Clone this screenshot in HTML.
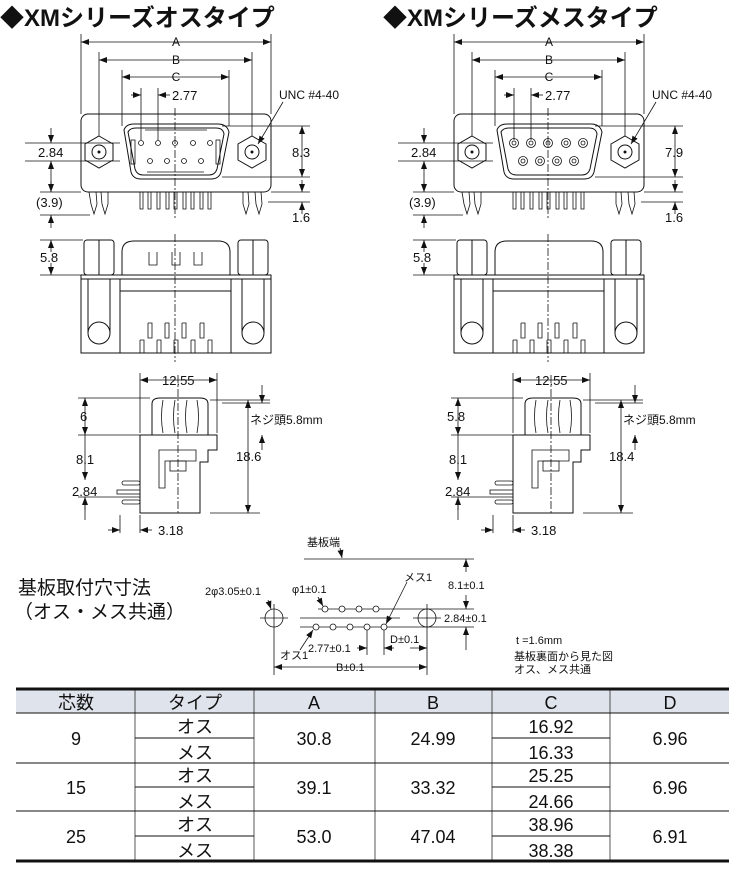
<!DOCTYPE html>
<html><head><meta charset="utf-8"><style>
html,body{margin:0;padding:0;background:#fff}
svg{display:block}
text{font-family:"Liberation Sans","Noto Sans CJK JP",sans-serif;fill:#111}
</style></head><body>
<svg width="745" height="870" viewBox="0 0 745 870" xmlns="http://www.w3.org/2000/svg">
<defs>
<marker id="ar" markerWidth="8" markerHeight="6" refX="8" refY="3" orient="auto-start-reverse" markerUnits="userSpaceOnUse"><path d="M0,0 L8,3 L0,6z" fill="#111"/></marker>
<g id="draw" stroke="#111" fill="none" stroke-width="1">
 <g stroke-width="0.8">
 <line x1="81" y1="34" x2="81" y2="114"/><line x1="271" y1="34" x2="271" y2="114"/>
 <line x1="81" y1="42" x2="271" y2="42" marker-start="url(#ar)" marker-end="url(#ar)"/>
 <line x1="99" y1="52" x2="99" y2="136"/><line x1="252" y1="52" x2="252" y2="136"/>
 <line x1="99" y1="60" x2="252" y2="60" marker-start="url(#ar)" marker-end="url(#ar)"/>
 <line x1="122" y1="70" x2="122" y2="126"/><line x1="229" y1="70" x2="229" y2="126"/>
 <line x1="122" y1="77" x2="229" y2="77" marker-start="url(#ar)" marker-end="url(#ar)"/>
 <line x1="141" y1="88" x2="141" y2="140"/><line x1="158" y1="88" x2="158" y2="140"/>
 <line x1="131" y1="95" x2="141" y2="95" marker-end="url(#ar)"/><line x1="170" y1="95" x2="158" y2="95" marker-end="url(#ar)"/>
 <line x1="25" y1="143" x2="120" y2="143"/><line x1="25" y1="161" x2="120" y2="161"/>
 <line x1="51" y1="128" x2="51" y2="143" marker-end="url(#ar)"/><line x1="51" y1="176" x2="51" y2="161" marker-end="url(#ar)"/>
 <line x1="51" y1="176" x2="51" y2="192"/>
 <line x1="40" y1="192" x2="81" y2="192"/><line x1="40" y1="215" x2="90" y2="215"/>
 <line x1="51" y1="181" x2="51" y2="192" marker-end="url(#ar)"/><line x1="51" y1="228" x2="51" y2="215" marker-end="url(#ar)"/>
 <line x1="222" y1="126" x2="310" y2="126"/><line x1="222" y1="177" x2="310" y2="177"/>
 <line x1="302" y1="126" x2="302" y2="177" marker-start="url(#ar)" marker-end="url(#ar)"/>
 <line x1="271" y1="192" x2="310" y2="192"/><line x1="268" y1="202" x2="310" y2="202"/>
 <line x1="302" y1="180" x2="302" y2="192" marker-end="url(#ar)"/><line x1="302" y1="214" x2="302" y2="202" marker-end="url(#ar)"/>
 <line x1="283" y1="102" x2="258" y2="144" marker-end="url(#ar)"/>
 </g>
 <rect x="81" y="114" width="190" height="78" rx="7"/>
 <path d="M124,130 Q126,124 134,124 L218,124 Q227,124 229,132 L221,172 Q219,179 211,179 L141,179 Q133,179 131,172 Z"/>
 <path d="M128,132 Q130,128 136,128 L216,128 Q223,128 224,134 L217,169 Q215,175 209,175 L143,175 Q137,175 135,169 Z"/>
 <polygon points="99,136 113,144 113,160 99,168 85,160 85,144"/><circle cx="99" cy="152" r="7"/><circle cx="99" cy="152" r="1" fill="#111"/>
 <polygon points="252,136 266,144 266,160 252,168 238,160 238,144"/><circle cx="252" cy="152" r="7"/><circle cx="252" cy="152" r="1" fill="#111"/>
 <line x1="175" y1="108" x2="175" y2="218" stroke-dasharray="8,2,2,2" stroke-width="0.8"/>
 <g stroke-width="0.8">
 <path d="M140,192v17h3v-17M148,192v17h3v-17M157,192v17h3v-17M166,192v17h3v-17M174,192v17h3v-17M183,192v17h3v-17M191,192v17h3v-17M200,192v17h3v-17M208,192v17h3v-17"/>
 <path d="M89,192 l2,12 l3,10 l3,-10 l-1,-12 M101,192 l1,12 l3,10 l3,-10 l0,-12"/>
 <path d="M243,192 l0,12 l3,10 l3,-10 l-1,-12 M255,192 l1,12 l3,10 l3,-10 l-1,-12"/>
 </g>
 <g stroke-width="0.8">
 <line x1="40" y1="240" x2="83" y2="240"/><line x1="40" y1="275" x2="83" y2="275"/>
 <line x1="51" y1="252" x2="51" y2="240" marker-end="url(#ar)"/><line x1="51" y1="263" x2="51" y2="275" marker-end="url(#ar)"/>
 </g>
 <rect x="84" y="240" width="30" height="35" rx="3"/><line x1="99" y1="240" x2="99" y2="275"/>
 <rect x="238" y="240" width="30" height="35" rx="3"/><line x1="253" y1="240" x2="253" y2="275"/>
 <path d="M122,275 V252 Q122,241 134,241 L218,241 Q230,241 230,252 V275"/>
 <rect x="81" y="275" width="190" height="78"/><line x1="81" y1="279" x2="271" y2="279"/>
 <line x1="120" y1="279" x2="120" y2="353"/><line x1="231" y1="279" x2="231" y2="353"/><line x1="120" y1="291" x2="231" y2="291"/>
 <path d="M88,279 V333 M110,279 V333 M88,333 A11,11 0 0 1 110,333 M88,333 A11,11 0 0 0 110,333"/>
 <path d="M242,279 V333 M264,279 V333 M242,333 A11,11 0 0 1 264,333 M242,333 A11,11 0 0 0 264,333"/>
 <g stroke-width="0.8">
 <path d="M140,340v13h4v-13h-4 M157,340v13h4v-13h-4 M174,340v13h4v-13h-4 M191,340v13h4v-13h-4 M208,340v13h4v-13h-4"/>
 <path d="M148,323v15h4v-15h-4 M165,323v15h4v-15h-4 M182,323v15h4v-15h-4 M200,323v15h4v-15h-4"/>
 <line x1="175" y1="234" x2="175" y2="362" stroke-dasharray="8,2,2,2"/>
 </g>
 <g stroke-width="0.8">
 <line x1="140" y1="373" x2="140" y2="433"/><line x1="217" y1="373" x2="217" y2="433"/>
 <line x1="140" y1="380" x2="217" y2="380" marker-start="url(#ar)" marker-end="url(#ar)"/>
 <line x1="78" y1="398" x2="150" y2="398"/><line x1="78" y1="435" x2="140" y2="435"/>
 <line x1="85" y1="398" x2="85" y2="435" marker-start="url(#ar)" marker-end="url(#ar)"/>
 <line x1="85" y1="435" x2="85" y2="480" marker-end="url(#ar)"/><line x1="85" y1="497" x2="85" y2="510"/>
 <line x1="85" y1="520" x2="85" y2="497" marker-end="url(#ar)"/>
 <line x1="78" y1="497" x2="140" y2="497"/>
 <line x1="210" y1="400" x2="270" y2="400"/><line x1="210" y1="513" x2="260" y2="513"/>
 <line x1="248" y1="400" x2="248" y2="513" marker-start="url(#ar)" marker-end="url(#ar)"/>
 <line x1="222" y1="403" x2="270" y2="403"/><line x1="262" y1="385" x2="262" y2="403" marker-end="url(#ar)"/>
 <line x1="262" y1="450" x2="262" y2="435" marker-end="url(#ar)"/>
 <line x1="120" y1="515" x2="120" y2="533"/><line x1="140" y1="515" x2="140" y2="533"/>
 <line x1="108" y1="530" x2="120" y2="530" marker-end="url(#ar)"/><line x1="152" y1="530" x2="140" y2="530" marker-end="url(#ar)"/>
 </g>
 <path d="M152,435 V404 Q152,398 160,398 L200,398 Q208,398 208,404 V435"/>
 <path d="M163,400 Q160,417 163,433 M175,400 Q172,417 175,433 M187,400 Q184,417 187,433 M197,400 Q200,417 197,433" stroke-width="0.8"/>
 <path d="M140,435 H217 V450 H208 V462 H200 V513 H140 Z"/>
 <path d="M159,450 H196 V461 H165 V488 H159 Z" stroke-width="0.8"/>
 <rect x="170" y="461" width="16" height="10" stroke-width="0.8"/>
 <g stroke-width="0.8">
 <rect x="122" y="481" width="18" height="4" rx="2"/><rect x="117" y="490" width="23" height="4"/><rect x="122" y="500" width="18" height="4" rx="2"/>
 <line x1="178" y1="375" x2="178" y2="515" stroke-dasharray="8,2,2,2"/>
 </g>
</g>
</defs>

<text x="0" y="26" font-size="24" font-weight="bold">◆XMシリーズオスタイプ</text>
<text x="383" y="26" font-size="24" font-weight="bold">◆XMシリーズメスタイプ</text>

<use href="#draw"/>
<use href="#draw" transform="translate(373,0)"/>

<!-- male pins -->
<g stroke="#111" fill="none" stroke-width="0.8">
 <circle cx="141" cy="143" r="2.5"/><circle cx="158" cy="143" r="2.5"/><circle cx="175" cy="143" r="2.5"/><circle cx="193" cy="143" r="2.5"/><circle cx="210" cy="143" r="2.5"/>
 <circle cx="150" cy="161" r="2.5"/><circle cx="167" cy="161" r="2.5"/><circle cx="184" cy="161" r="2.5"/><circle cx="201" cy="161" r="2.5"/>
 <rect x="131" y="140" width="4" height="24"/><rect x="216" y="140" width="4" height="24"/>
 <line x1="145" y1="130" x2="207" y2="130"/><line x1="147" y1="172" x2="204" y2="172"/>
 <path d="M149,252v13h8v-13 M172,252v13h8v-13 M194,252v13h8v-13"/>
</g>
<!-- female pins -->
<g stroke="#111" fill="none" stroke-width="0.8">
 <g><circle cx="514" cy="143" r="4.5"/><circle cx="531" cy="143" r="4.5"/><circle cx="548" cy="143" r="4.5"/><circle cx="566" cy="143" r="4.5"/><circle cx="583" cy="143" r="4.5"/>
 <circle cx="523" cy="161" r="4.5"/><circle cx="540" cy="161" r="4.5"/><circle cx="557" cy="161" r="4.5"/><circle cx="574" cy="161" r="4.5"/></g>
 <g><circle cx="514" cy="143" r="2"/><circle cx="531" cy="143" r="2"/><circle cx="548" cy="143" r="2"/><circle cx="566" cy="143" r="2"/><circle cx="583" cy="143" r="2"/>
 <circle cx="523" cy="161" r="2"/><circle cx="540" cy="161" r="2"/><circle cx="557" cy="161" r="2"/><circle cx="574" cy="161" r="2"/></g>
</g>

<g font-size="12" text-anchor="middle">
 <text x="176" y="46">A</text><text x="549" y="46">A</text>
 <text x="176" y="64">B</text><text x="549" y="64">B</text>
 <text x="176" y="81">C</text><text x="549" y="81">C</text>
</g>
<g font-size="13">
 <text x="172" y="100">2.77</text><text x="545" y="100">2.77</text>
 <text x="279" y="99" font-size="12">UNC #4-40</text><text x="652" y="99" font-size="12">UNC #4-40</text>
 <text x="38" y="157">2.84</text><text x="411" y="157">2.84</text>
 <text x="36" y="207">(3.9)</text><text x="409" y="207">(3.9)</text>
 <text x="292" y="157">8.3</text><text x="665" y="157">7.9</text>
 <text x="292" y="222">1.6</text><text x="665" y="222">1.6</text>
 <text x="40" y="262">5.8</text><text x="413" y="262">5.8</text>
 <text x="162" y="385">12.55</text><text x="535" y="385">12.55</text>
 <text x="80" y="421">6</text><text x="447" y="421">5.8</text>
 <text x="76" y="464">8.1</text><text x="449" y="464">8.1</text>
 <text x="72" y="496">2.84</text><text x="445" y="496">2.84</text>
 <text x="236" y="461">18.6</text><text x="609" y="461">18.4</text>
 <text x="250" y="424" font-size="12">ネジ頭5.8mm</text><text x="623" y="424" font-size="12">ネジ頭5.8mm</text>
 <text x="158" y="535">3.18</text><text x="531" y="535">3.18</text>
</g>

<text x="18" y="594" font-size="19">基板取付穴寸法</text>
<text x="14" y="618" font-size="19">（オス・メス共通）</text>

<g stroke="#111" fill="none" stroke-width="0.8">
 <line x1="304" y1="559" x2="474" y2="559"/><line x1="340" y1="548" x2="342" y2="558" marker-end="url(#ar)"/>
 <line x1="466" y1="572" x2="466" y2="559" marker-end="url(#ar)"/><line x1="466" y1="595" x2="466" y2="609" marker-end="url(#ar)"/>
 <line x1="318" y1="609" x2="474" y2="609"/><line x1="300" y1="618" x2="400" y2="618"/><line x1="300" y1="627" x2="474" y2="627"/>
 <line x1="466" y1="650" x2="466" y2="627" marker-end="url(#ar)"/>
 <circle cx="274" cy="618" r="9"/><line x1="260" y1="618" x2="288" y2="618"/><line x1="274" y1="604" x2="274" y2="675"/>
 <circle cx="427" cy="618" r="9"/><line x1="413" y1="618" x2="441" y2="618"/><line x1="427" y1="604" x2="427" y2="675"/>
 <g fill="#fff">
 <circle cx="325" cy="609" r="3"/><circle cx="342" cy="609" r="3"/><circle cx="359" cy="609" r="3"/><circle cx="376" cy="609" r="3"/>
 <circle cx="316" cy="627" r="3"/><circle cx="333" cy="627" r="3"/><circle cx="350" cy="627" r="3"/><circle cx="367" cy="627" r="3"/><circle cx="384" cy="627" r="3"/>
 </g>
 <line x1="367" y1="630" x2="367" y2="655"/><line x1="384" y1="630" x2="384" y2="655"/>
 <line x1="357" y1="648" x2="367" y2="648" marker-end="url(#ar)"/><line x1="394" y1="648" x2="384" y2="648" marker-end="url(#ar)"/>
 <line x1="410" y1="648" x2="427" y2="648" marker-end="url(#ar)"/>
 <line x1="274" y1="667" x2="427" y2="667" marker-start="url(#ar)" marker-end="url(#ar)"/>
 <line x1="268" y1="600" x2="271" y2="609" marker-end="url(#ar)"/>
 <line x1="318" y1="597" x2="323" y2="606" marker-end="url(#ar)"/>
 <line x1="407" y1="582" x2="386" y2="624" marker-end="url(#ar)"/>
 <line x1="300" y1="650" x2="313" y2="630" marker-end="url(#ar)"/>
</g>
<g font-size="11">
 <text x="307" y="546">基板端</text>
 <text x="448" y="589">8.1±0.1</text>
 <text x="205" y="595">2φ3.05±0.1</text>
 <text x="292" y="593">φ1±0.1</text>
 <text x="404" y="581">メス1</text>
 <text x="444" y="622">2.84±0.1</text>
 <text x="390" y="643">D±0.1</text>
 <text x="280" y="659">オス1</text>
 <text x="308" y="652">2.77±0.1</text>
 <text x="336" y="671">B±0.1</text>
 <text x="516" y="644">t =1.6mm</text>
 <text x="514" y="660">基板裏面から見た図</text>
 <text x="514" y="673">オス、メス共通</text>
</g>

<rect x="16" y="690" width="713" height="23" fill="#dfe3ec"/>
<g stroke="#111" fill="none">
 <line x1="16" y1="689" x2="729" y2="689" stroke-width="3"/>
 <line x1="16" y1="861" x2="729" y2="861" stroke-width="3"/>
 <line x1="16" y1="713" x2="729" y2="713"/><line x1="16" y1="763" x2="729" y2="763"/><line x1="16" y1="811" x2="729" y2="811"/>
 <line x1="135" y1="738" x2="254" y2="738"/><line x1="135" y1="787" x2="254" y2="787"/><line x1="135" y1="836" x2="254" y2="836"/>
 <line x1="492" y1="738" x2="610" y2="738"/><line x1="492" y1="787" x2="610" y2="787"/><line x1="492" y1="836" x2="610" y2="836"/>
 <g stroke-width="0.7"><line x1="135" y1="690" x2="135" y2="860"/><line x1="254" y1="690" x2="254" y2="860"/><line x1="375" y1="690" x2="375" y2="860"/><line x1="492" y1="690" x2="492" y2="860"/><line x1="610" y1="690" x2="610" y2="860"/></g>
</g>
<g font-size="18" text-anchor="middle">
 <text x="76" y="709">芯数</text><text x="195" y="709">タイプ</text><text x="314" y="709">A</text><text x="433" y="709">B</text><text x="551" y="709">C</text><text x="670" y="709">D</text>
 <text x="76" y="745">9</text><text x="76" y="794">15</text><text x="76" y="843">25</text>
 <text x="195" y="733">オス</text><text x="195" y="759">メス</text>
 <text x="195" y="782">オス</text><text x="195" y="808">メス</text>
 <text x="195" y="831">オス</text><text x="195" y="857">メス</text>
 <text x="314" y="745">30.8</text><text x="314" y="794">39.1</text><text x="314" y="843">53.0</text>
 <text x="433" y="745">24.99</text><text x="433" y="794">33.32</text><text x="433" y="843">47.04</text>
 <text x="551" y="733">16.92</text><text x="551" y="759">16.33</text>
 <text x="551" y="782">25.25</text><text x="551" y="808">24.66</text>
 <text x="551" y="831">38.96</text><text x="551" y="857">38.38</text>
 <text x="670" y="745">6.96</text><text x="670" y="794">6.96</text><text x="670" y="843">6.91</text>
</g>
</svg>
</body></html>
